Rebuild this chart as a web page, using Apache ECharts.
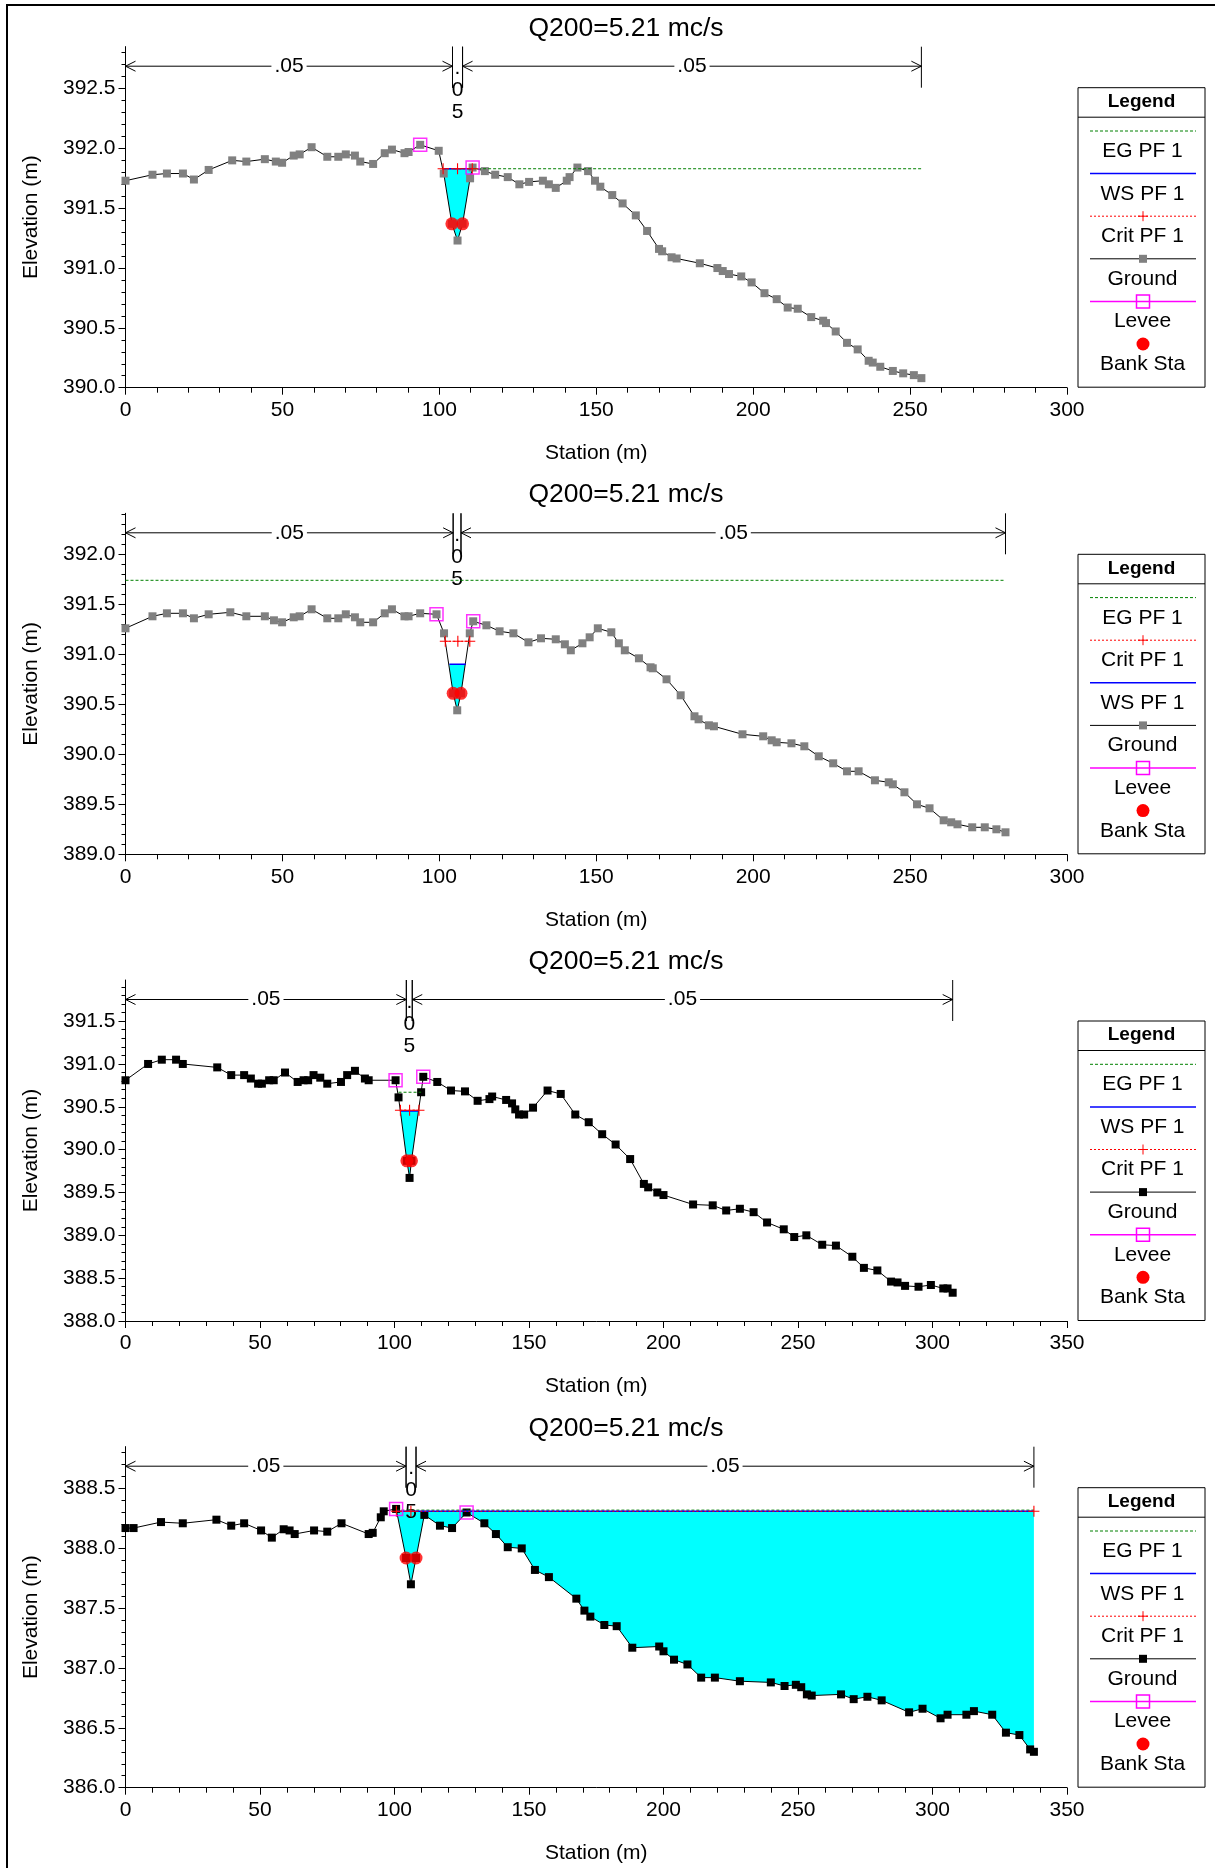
<!DOCTYPE html>
<html>
<head>
<meta charset="utf-8">
<script src="https://cdn.jsdelivr.net/npm/echarts@6/dist/echarts.min.js"></script>
<style>html,body{margin:0;padding:0;background:#fff}#c{width:1215px;height:1868px}</style>
</head>
<body>
<div id="c"></div>
<script>
// ---------------- DATA ----------------
const titles = ['Q200=5.21 mc/s', 'Q200=5.21 mc/s', 'Q200=5.21 mc/s', 'Q200=5.21 mc/s'];
const xAxisName = 'Station (m)';
const yAxisName = 'Elevation (m)';

const stationTicksA = [0, 50, 100, 150, 200, 250, 300];
const stationTicksB = [0, 50, 100, 150, 200, 250, 300, 350];
const elevTicks1 = [390.0, 390.5, 391.0, 391.5, 392.0, 392.5];
const elevTicks2 = [389.0, 389.5, 390.0, 390.5, 391.0, 391.5, 392.0];
const elevTicks3 = [388.0, 388.5, 389.0, 389.5, 390.0, 390.5, 391.0, 391.5];
const elevTicks4 = [386.0, 386.5, 387.0, 387.5, 388.0, 388.5];

const legendOrder1 = ['EG PF 1', 'WS PF 1', 'Crit PF 1', 'Ground', 'Levee', 'Bank Sta'];
const legendOrder2 = ['EG PF 1', 'Crit PF 1', 'WS PF 1', 'Ground', 'Levee', 'Bank Sta'];
const legendOrder3 = ['EG PF 1', 'WS PF 1', 'Crit PF 1', 'Ground', 'Levee', 'Bank Sta'];
const legendOrder4 = ['EG PF 1', 'WS PF 1', 'Crit PF 1', 'Ground', 'Levee', 'Bank Sta'];

// Panel 1
const p1Sta = [0, 8.6, 13.2, 18.3, 21.8, 26.5, 34.0, 38.5, 44.4, 47.9, 49.9, 53.6, 55.5, 59.3, 64.3, 67.8, 70.2, 73.1, 74.8, 78.9, 82.6, 84.9, 88.9, 90.2, 93.9, 99.8, 101.4, 104.0, 105.8, 107.4, 109.8, 110.6, 114.5, 117.8, 121.8, 125.5, 128.6, 133.0, 134.9, 137.1, 140.6, 141.5, 144.0, 147.4, 149.6, 151.3, 155.1, 158.4, 162.6, 166.2, 170.0, 171.0, 174.0, 175.6, 183.0, 188.6, 190.3, 192.3, 196.2, 199.5, 203.6, 207.5, 211.0, 214.2, 218.5, 222.3, 223.2, 226.3, 229.9, 233.3, 236.8, 238.1, 240.5, 244.5, 247.8, 251.2, 253.6];
const p1Elev = [391.73, 391.78, 391.79, 391.79, 391.74, 391.82, 391.90, 391.89, 391.91, 391.89, 391.88, 391.94, 391.95, 392.01, 391.93, 391.93, 391.95, 391.94, 391.89, 391.87, 391.96, 391.99, 391.96, 391.97, 392.03, 391.98, 391.79, 391.37, 391.23, 391.37, 391.75, 391.84, 391.81, 391.78, 391.76, 391.70, 391.72, 391.73, 391.70, 391.67, 391.73, 391.76, 391.84, 391.81, 391.73, 391.68, 391.61, 391.54, 391.44, 391.31, 391.16, 391.14, 391.09, 391.08, 391.04, 391.00, 390.975, 390.95, 390.93, 390.88, 390.79, 390.74, 390.67, 390.66, 390.59, 390.56, 390.54, 390.47, 390.375, 390.32, 390.225, 390.21, 390.175, 390.14, 390.12, 390.105, 390.08];
const p1LeveeSta = [93.9, 110.6];
const p1LeveeElev = [392.03, 391.84];
const p1BankSta = [104.0, 107.4];
const p1BankElev = [391.37, 391.37];
const p1WS = 391.83;
const p1WSExtent = [101.2, 110.5];
const p1EG = 391.83;
const p1EGExtent = [101.2, 253.6];
const p1Crit = 391.83;
const p1CritSta = [101.2, 105.8, 110.5];
const p1NSta = [0, 104.2, 107.4, 253.6];
const p1NVal = ['.05', '.05', '.05'];

// Panel 2
const p2Sta = [0, 8.6, 13.2, 18.3, 21.8, 26.5, 33.4, 38.5, 44.4, 47.3, 49.9, 53.6, 55.5, 59.3, 64.3, 67.8, 70.2, 73.1, 74.8, 78.9, 82.6, 84.9, 88.9, 90.2, 93.9, 99.1, 101.5, 104.4, 105.7, 106.9, 109.7, 110.8, 115.0, 119.2, 123.6, 128.4, 132.4, 137.1, 140.0, 141.9, 145.6, 147.9, 150.5, 154.8, 157.2, 159.1, 163.6, 167.3, 168.0, 172.4, 176.9, 181.3, 182.6, 185.9, 187.5, 196.6, 203.2, 205.9, 207.5, 212.2, 216.3, 220.9, 225.5, 229.9, 233.6, 238.8, 243.2, 244.5, 248.2, 252.2, 256.2, 260.7, 263.1, 265.1, 269.8, 273.8, 277.5, 280.4];
const p2Elev = [391.26, 391.38, 391.41, 391.41, 391.36, 391.40, 391.42, 391.38, 391.38, 391.34, 391.32, 391.37, 391.38, 391.45, 391.36, 391.36, 391.40, 391.37, 391.32, 391.32, 391.41, 391.45, 391.38, 391.38, 391.41, 391.40, 391.21, 390.61, 390.44, 390.61, 391.21, 391.33, 391.29, 391.23, 391.21, 391.12, 391.16, 391.15, 391.10, 391.04, 391.11, 391.17, 391.26, 391.22, 391.11, 391.04, 390.96, 390.87, 390.86, 390.75, 390.59, 390.38, 390.35, 390.29, 390.28, 390.20, 390.18, 390.14, 390.12, 390.11, 390.08, 389.98, 389.91, 389.83, 389.83, 389.74, 389.72, 389.70, 389.62, 389.50, 389.46, 389.34, 389.32, 389.30, 389.27, 389.27, 389.25, 389.22];
const p2LeveeSta = [99.1, 110.8];
const p2LeveeElev = [391.40, 391.33];
const p2BankSta = [104.4, 106.9];
const p2BankElev = [390.61, 390.61];
const p2WS = 390.90;
const p2WSExtent = [103.2, 108.4];
const p2EG = 391.74;
const p2EGExtent = [0, 280.4];
const p2Crit = 391.13;
const p2CritSta = [101.9, 105.9, 109.7];
const p2NSta = [0, 104.4, 106.9, 280.4];
const p2NVal = ['.05', '.05', '.05'];

// Panel 3
const p3Sta = [0, 8.4, 13.5, 18.8, 21.3, 34.1, 39.3, 44.1, 46.6, 49.3, 50.7, 53.4, 55.1, 59.3, 64.0, 66.2, 67.9, 69.9, 72.4, 75.0, 80.1, 82.4, 85.3, 89.0, 90.4, 100.4, 101.5, 104.6, 105.6, 106.3, 109.9, 110.7, 115.9, 121.0, 126.2, 130.9, 135.3, 136.3, 141.5, 143.7, 144.9, 146.3, 148.2, 151.5, 156.9, 161.8, 167.2, 172.2, 177.2, 182.2, 187.6, 192.7, 194.3, 197.7, 200.0, 211.0, 218.3, 223.3, 228.4, 233.5, 238.5, 244.7, 248.6, 253.1, 259.0, 264.1, 270.2, 274.5, 279.5, 284.6, 287.0, 289.8, 294.8, 299.4, 304.0, 305.6, 307.5];
const p3Elev = [390.81, 391.00, 391.05, 391.05, 391.00, 390.96, 390.87, 390.87, 390.83, 390.77, 390.77, 390.81, 390.81, 390.90, 390.79, 390.81, 390.81, 390.87, 390.84, 390.77, 390.79, 390.87, 390.92, 390.83, 390.81, 390.81, 390.61, 389.87, 389.67, 389.87, 390.67, 390.85, 390.79, 390.69, 390.68, 390.57, 390.59, 390.62, 390.58, 390.54, 390.47, 390.41, 390.41, 390.49, 390.69, 390.65, 390.41, 390.32, 390.18, 390.06, 389.89, 389.60, 389.56, 389.50, 389.47, 389.36, 389.35, 389.29, 389.31, 389.27, 389.15, 389.07, 388.98, 389.00, 388.89, 388.88, 388.75, 388.62, 388.59, 388.46, 388.45, 388.41, 388.40, 388.42, 388.38, 388.38, 388.33];
const p3LeveeSta = [100.4, 110.7];
const p3LeveeElev = [390.81, 390.85];
const p3BankSta = [104.6, 106.3];
const p3BankElev = [389.87, 389.87];
const p3WS = 390.45;
const p3WSExtent = [102.2, 109.1];
const p3EG = 390.67;
const p3EGExtent = [101.5, 109.9];
const p3Crit = 390.46;
const p3CritSta = [102.2, 105.6, 109.1];
const p3NSta = [0, 104.4, 106.6, 307.5];
const p3NVal = ['.05', '.05', '.05'];

// Panel 4
const p4Sta = [0, 3.0, 13.2, 21.3, 33.8, 39.3, 44.1, 50.4, 54.4, 58.8, 61.0, 62.9, 70.1, 75.0, 80.3, 90.4, 91.9, 94.9, 96.0, 100.6, 104.3, 106.1, 108.0, 111.1, 116.9, 121.4, 126.8, 133.4, 137.7, 142.1, 147.3, 152.2, 157.4, 167.6, 170.6, 172.8, 178.0, 182.6, 188.4, 198.4, 200.0, 203.9, 208.9, 214.0, 219.1, 228.4, 239.9, 245.0, 249.2, 251.2, 253.3, 255.1, 266.0, 270.7, 275.8, 281.1, 291.3, 296.3, 303.0, 305.6, 312.6, 315.4, 322.2, 327.3, 332.3, 336.3, 337.7];
const p4Elev = [388.17, 388.17, 388.22, 388.21, 388.24, 388.19, 388.21, 388.15, 388.09, 388.16, 388.15, 388.12, 388.15, 388.14, 388.21, 388.12, 388.13, 388.26, 388.31, 388.33, 387.92, 387.70, 387.92, 388.28, 388.19, 388.17, 388.30, 388.21, 388.12, 388.01, 388.00, 387.82, 387.76, 387.58, 387.48, 387.43, 387.36, 387.35, 387.17, 387.18, 387.14, 387.07, 387.03, 386.92, 386.92, 386.89, 386.88, 386.85, 386.86, 386.84, 386.78, 386.77, 386.78, 386.74, 386.76, 386.73, 386.63, 386.66, 386.58, 386.61, 386.61, 386.64, 386.61, 386.46, 386.44, 386.32, 386.30];
const p4LeveeSta = [100.6, 126.8];
const p4LeveeElev = [388.33, 388.30];
const p4BankSta = [104.3, 108.0];
const p4BankElev = [387.92, 387.92];
const p4WS = 388.31;
const p4WSExtent = [100.7, 337.7];
const p4EG = 388.32;
const p4EGExtent = [100.7, 337.7];
const p4Crit = 388.31;
const p4CritSta = [100.7, 106.1, 337.7];
const p4NSta = [0, 104.3, 108.0, 337.7];
const p4NVal = ['.05', '.05', '.05'];

// ---------------- LAYOUT / STYLE ----------------
const FONT = '"Liberation Sans", Arial, Helvetica, sans-serif';
const GRID_LEFT = 125.5, GRID_W = 941.5, GRID_H = 341;
const GRID_TOPS = [46.7, 513.3, 980, 1446.7];
const AXIS_RANGES = [
  {xMax: 300, xTicks: stationTicksA, yMin: 390.0, yMax: 392.85, yTicks: elevTicks1},
  {xMax: 300, xTicks: stationTicksA, yMin: 389.0, yMax: 392.41, yTicks: elevTicks2},
  {xMax: 350, xTicks: stationTicksB, yMin: 388.0, yMax: 391.98, yTicks: elevTicks3},
  {xMax: 350, xTicks: stationTicksB, yMin: 386.0, yMax: 388.85, yTicks: elevTicks4}
];
const COLORS = {eg: '#008000', ws: '#0000FF', crit: '#FF0000', levee: '#FF00FF', bank: '#FF0000', fill: '#00FFFF'};
const GROUND_MARK = ['#808080', '#808080', '#000000', '#000000'];

const panels = [
  {sta: p1Sta, elev: p1Elev, levS: p1LeveeSta, levE: p1LeveeElev, bankS: p1BankSta, bankE: p1BankElev, ws: p1WS, wsExt: p1WSExtent, eg: p1EG, egExt: p1EGExtent, crit: p1Crit, critS: p1CritSta, nS: p1NSta, nV: p1NVal, legend: legendOrder1},
  {sta: p2Sta, elev: p2Elev, levS: p2LeveeSta, levE: p2LeveeElev, bankS: p2BankSta, bankE: p2BankElev, ws: p2WS, wsExt: p2WSExtent, eg: p2EG, egExt: p2EGExtent, crit: p2Crit, critS: p2CritSta, nS: p2NSta, nV: p2NVal, legend: legendOrder2},
  {sta: p3Sta, elev: p3Elev, levS: p3LeveeSta, levE: p3LeveeElev, bankS: p3BankSta, bankE: p3BankElev, ws: p3WS, wsExt: p3WSExtent, eg: p3EG, egExt: p3EGExtent, crit: p3Crit, critS: p3CritSta, nS: p3NSta, nV: p3NVal, legend: legendOrder3},
  {sta: p4Sta, elev: p4Elev, levS: p4LeveeSta, levE: p4LeveeElev, bankS: p4BankSta, bankE: p4BankElev, ws: p4WS, wsExt: p4WSExtent, eg: p4EG, egExt: p4EGExtent, crit: p4Crit, critS: p4CritSta, nS: p4NSta, nV: p4NVal, legend: legendOrder4}
];

function groundAt(sta, elev, x) {
  if (x <= sta[0]) return elev[0];
  for (let i = 1; i < sta.length; i++) {
    if (x <= sta[i]) {
      const t = (x - sta[i - 1]) / (sta[i] - sta[i - 1]);
      return elev[i - 1] + t * (elev[i] - elev[i - 1]);
    }
  }
  return elev[elev.length - 1];
}

function waterPolygon(sta, elev, a, b, w) {
  const raw = [[a, groundAt(sta, elev, a)]];
  for (let i = 0; i < sta.length; i++) if (sta[i] > a && sta[i] < b) raw.push([sta[i], elev[i]]);
  raw.push([b, groundAt(sta, elev, b)]);
  const bottom = [];
  for (let k = 0; k < raw.length; k++) {
    const p = raw[k];
    bottom.push([p[0], Math.min(p[1], w)]);
    if (k < raw.length - 1) {
      const q = raw[k + 1];
      if ((p[1] - w) * (q[1] - w) < 0) {
        const t = (w - p[1]) / (q[1] - p[1]);
        bottom.push([p[0] + t * (q[0] - p[0]), w]);
      }
    }
  }
  const poly = [[a, w], [b, w]];
  for (let k = bottom.length - 1; k >= 0; k--) poly.push(bottom[k]);
  return poly;
}

const PLUS_PATH = 'path://M4.5,0H5.5V10H4.5Z M0,4.5H10V5.5H0Z';

const grids = [], xAxes = [], yAxes = [], series = [], graphics = [];

panels.forEach((p, i) => {
  const R = AXIS_RANGES[i];
  const top = GRID_TOPS[i];
  grids.push({left: GRID_LEFT, top: top, width: GRID_W, height: GRID_H, containLabel: false});
  xAxes.push({
    gridIndex: i, type: 'value', min: 0, max: R.xMax, interval: 50,
    name: xAxisName, nameLocation: 'middle', nameGap: 55,
    nameTextStyle: {fontFamily: FONT, fontSize: 21, color: '#000'},
    axisLine: {show: true, onZero: false, lineStyle: {color: '#000', width: 1}},
    axisTick: {show: true, length: 7, lineStyle: {color: '#000'}},
    minorTick: {show: true, splitNumber: 5, length: 5, lineStyle: {color: '#000'}},
    axisLabel: {margin: 12, fontFamily: FONT, fontSize: 21, color: '#000', customValues: R.xTicks, formatter: v => String(v)},
    splitLine: {show: false}, minorSplitLine: {show: false}
  });
  yAxes.push({
    gridIndex: i, type: 'value', min: R.yMin, max: R.yMax, interval: 0.5,
    name: yAxisName, nameLocation: 'middle', nameGap: 84,
    nameTextStyle: {fontFamily: FONT, fontSize: 21, color: '#000'},
    axisLine: {show: true, onZero: false, lineStyle: {color: '#000', width: 1}},
    axisTick: {show: true, length: 7, customValues: R.yTicks, lineStyle: {color: '#000'}},
    minorTick: {show: true, splitNumber: 5, length: 4, lineStyle: {color: '#000'}},
    axisLabel: {margin: 10, fontFamily: FONT, fontSize: 21, color: '#000', customValues: R.yTicks, formatter: v => v.toFixed(1)},
    splitLine: {show: false}, minorSplitLine: {show: false}
  });

  // water fill
  series.push({
    type: 'custom', xAxisIndex: i, yAxisIndex: i, z: 1, silent: true,
    data: [[p.wsExt[0], p.wsExt[1], p.ws]],
    renderItem: (params, api) => {
      const poly = waterPolygon(p.sta, p.elev, api.value(0), api.value(1), api.value(2));
      return {type: 'polygon', shape: {points: poly.map(q => api.coord(q))}, style: {fill: COLORS.fill, stroke: null}};
    }
  });

  // manning n annotation
  const segs = [];
  for (let k = 0; k < p.nV.length; k++) segs.push([p.nS[k], p.nS[k + 1]]);
  series.push({
    type: 'custom', xAxisIndex: i, yAxisIndex: i, z: 2, silent: true, clip: false,
    data: segs,
    renderItem: (params, api) => {
      const label = p.nV[params.dataIndex];
      const t = params.coordSys.y;
      const px0 = api.coord([api.value(0), R.yMin])[0];
      const px1 = api.coord([api.value(1), R.yMin])[0];
      const ay = t + 19.5;
      const ln = {stroke: '#000', lineWidth: 1};
      const ch = [
        {type: 'line', shape: {x1: px0, y1: t, x2: px0, y2: t + 41}, style: ln},
        {type: 'line', shape: {x1: px1, y1: t, x2: px1, y2: t + 41}, style: ln}
      ];
      if (px1 - px0 > 40) {
        ch.push({type: 'line', shape: {x1: px0, y1: ay, x2: px1, y2: ay}, style: ln});
        ch.push({type: 'polyline', shape: {points: [[px0 + 10, ay - 5], [px0, ay], [px0 + 10, ay + 5]]}, style: {stroke: '#000', fill: 'none', lineWidth: 1}});
        ch.push({type: 'polyline', shape: {points: [[px1 - 10, ay - 5], [px1, ay], [px1 - 10, ay + 5]]}, style: {stroke: '#000', fill: 'none', lineWidth: 1}});
        ch.push({type: 'text', x: (px0 + px1) / 2, y: ay, style: {text: label, font: '21px ' + FONT, fill: '#000', align: 'center', verticalAlign: 'middle', backgroundColor: '#fff', padding: [0, 3]}});
      } else {
        ch.push({type: 'text', x: (px0 + px1) / 2, y: t + 11, style: {text: label.split('').join('\n'), font: '21px ' + FONT, lineHeight: 22, fill: '#000', align: 'center', verticalAlign: 'top'}});
      }
      return {type: 'group', children: ch};
    }
  });

  // ground
  series.push({
    name: 'Ground', type: 'line', xAxisIndex: i, yAxisIndex: i, z: 3,
    data: p.sta.map((s, k) => [s, p.elev[k]]),
    symbol: 'rect', symbolSize: 8, showSymbol: true, showAllSymbol: true,
    lineStyle: {color: '#000', width: 1}, itemStyle: {color: GROUND_MARK[i]}
  });
  // EG
  series.push({
    name: 'EG PF 1', type: 'line', xAxisIndex: i, yAxisIndex: i, z: 4, symbol: 'none',
    data: [[p.egExt[0], p.eg], [p.egExt[1], p.eg]],
    lineStyle: {color: COLORS.eg, width: 1, type: [3, 2]}
  });
  // WS
  series.push({
    name: 'WS PF 1', type: 'line', xAxisIndex: i, yAxisIndex: i, z: 5, symbol: 'none',
    data: [[p.wsExt[0], p.ws], [p.wsExt[1], p.ws]],
    lineStyle: {color: COLORS.ws, width: 1.5}
  });
  // Crit
  series.push({
    name: 'Crit PF 1', type: 'line', xAxisIndex: i, yAxisIndex: i, z: 6,
    data: p.critS.map(s => [s, p.crit]),
    symbol: PLUS_PATH, symbolSize: 11, showSymbol: true, showAllSymbol: true,
    lineStyle: {color: COLORS.crit, width: 1, type: [2, 2]}, itemStyle: {color: COLORS.crit}
  });
  // Levee
  series.push({
    name: 'Levee', type: 'scatter', xAxisIndex: i, yAxisIndex: i, z: 7,
    data: p.levS.map((s, k) => [s, p.levE[k]]),
    symbol: 'rect', symbolSize: 13,
    itemStyle: {color: 'rgba(0,0,0,0)', borderColor: COLORS.levee, borderWidth: 1.5}
  });
  // Bank
  series.push({
    name: 'Bank Sta', type: 'scatter', xAxisIndex: i, yAxisIndex: i, z: 8,
    data: p.bankS.map((s, k) => [s, p.bankE[k]]),
    symbol: 'circle', symbolSize: 13, itemStyle: {color: COLORS.bank}
  });

  // title
  graphics.push({type: 'text', x: 626, y: top - 18.5, z: 10,
    style: {text: titles[i], font: '26.5px ' + FONT, fill: '#000', align: 'center', verticalAlign: 'middle'}});

  // legend box
  const L = 1078, Rr = 1205, bt = top + 41, bb = top + GRID_H - 0.5, cx = (L + Rr) / 2;
  const lx0 = 1090, lx1 = 1196;
  graphics.push({type: 'rect', z: 10, shape: {x: L, y: bt, width: Rr - L, height: bb - bt}, style: {fill: '#fff', stroke: '#000', lineWidth: 1}});
  graphics.push({type: 'text', z: 11, x: cx, y: top + 55, style: {text: 'Legend', font: 'bold 19px ' + FONT, fill: '#000', align: 'center', verticalAlign: 'middle'}});
  graphics.push({type: 'line', z: 11, shape: {x1: L, y1: top + 70.5, x2: Rr, y2: top + 70.5}, style: {stroke: '#000', lineWidth: 1}});
  p.legend.forEach((name, k) => {
    const sy = top + 84.3 + k * 42.6;
    const ty = top + 104.5 + k * 42.6;
    if (name === 'EG PF 1') {
      graphics.push({type: 'line', z: 11, shape: {x1: lx0, y1: sy, x2: lx1, y2: sy}, style: {stroke: COLORS.eg, lineWidth: 1, lineDash: [3, 2]}});
    } else if (name === 'WS PF 1') {
      graphics.push({type: 'line', z: 11, shape: {x1: lx0, y1: sy, x2: lx1, y2: sy}, style: {stroke: COLORS.ws, lineWidth: 1.5}});
    } else if (name === 'Crit PF 1') {
      graphics.push({type: 'line', z: 11, shape: {x1: lx0, y1: sy, x2: lx1, y2: sy}, style: {stroke: COLORS.crit, lineWidth: 1, lineDash: [2, 2]}});
      graphics.push({type: 'line', z: 12, shape: {x1: cx + 1.5 - 5, y1: sy, x2: cx + 1.5 + 5, y2: sy}, style: {stroke: COLORS.crit, lineWidth: 1}});
      graphics.push({type: 'line', z: 12, shape: {x1: cx + 1.5, y1: sy - 5, x2: cx + 1.5, y2: sy + 5}, style: {stroke: COLORS.crit, lineWidth: 1}});
    } else if (name === 'Ground') {
      graphics.push({type: 'line', z: 11, shape: {x1: lx0, y1: sy, x2: lx1, y2: sy}, style: {stroke: '#000', lineWidth: 1}});
      graphics.push({type: 'rect', z: 12, shape: {x: cx + 1.5 - 4, y: sy - 4, width: 8, height: 8}, style: {fill: GROUND_MARK[i]}});
    } else if (name === 'Levee') {
      graphics.push({type: 'line', z: 11, shape: {x1: lx0, y1: sy, x2: lx1, y2: sy}, style: {stroke: COLORS.levee, lineWidth: 1.5}});
      graphics.push({type: 'rect', z: 12, shape: {x: cx + 1.5 - 6.5, y: sy - 6.5, width: 13, height: 13}, style: {fill: 'none', stroke: COLORS.levee, lineWidth: 1.5}});
    } else if (name === 'Bank Sta') {
      graphics.push({type: 'circle', z: 12, shape: {cx: cx + 1.5, cy: sy, r: 6.5}, style: {fill: COLORS.bank}});
    }
    graphics.push({type: 'text', z: 11, x: cx + 1, y: ty, style: {text: name, font: '21px ' + FONT, fill: '#000', align: 'center', verticalAlign: 'middle'}});
  });
});

// page frame
graphics.push({type: 'rect', z: 0, shape: {x: 7, y: 5, width: 1300, height: 1950}, style: {fill: 'none', stroke: '#000', lineWidth: 2}});

const chart = echarts.init(document.getElementById('c'), null, {renderer: 'canvas'});
chart.setOption({
  animation: false,
  backgroundColor: '#fff',
  textStyle: {fontFamily: FONT},
  grid: grids, xAxis: xAxes, yAxis: yAxes, series: series, graphic: graphics
});
</script>
</body>
</html>
